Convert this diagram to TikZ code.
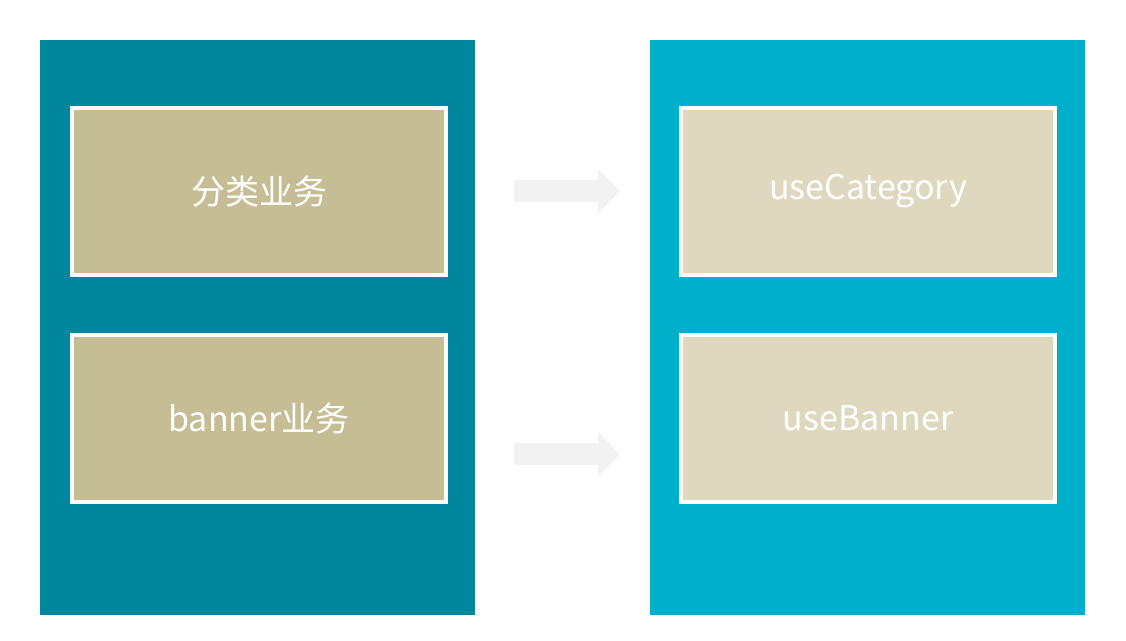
\documentclass[tikz,border=0pt]{standalone}
\usepackage{fontspec}
\setmainfont{Noto Sans CJK SC}
\usetikzlibrary{arrows.meta}
\definecolor{paneldark}{HTML}{00879E}
\definecolor{panellight}{HTML}{00B0CA}
\definecolor{boxdark}{HTML}{C5BD94}
\definecolor{boxlight}{HTML}{DDD8BE}
\definecolor{arrowgray}{HTML}{F2F2F2}
\begin{document}
\begin{tikzpicture}[x=1pt,y=-1pt,
  panel/.style={draw=none,inner sep=0pt,minimum width=435pt,minimum height=575pt},
  bizbox/.style={draw=white,line width=4pt,inner sep=0pt,minimum width=374pt,minimum height=167pt,
    text=white,font=\fontsize{34}{40}\selectfont},
  flow/.style={draw=arrowgray,line width=22pt,-{Triangle[length=22pt,width=43pt]}}]
\useasboundingbox (0,0) rectangle (1126,640);
\node[panel,fill=paneldark] (lp) at (257.5,327.5) {};
\node[panel,fill=panellight] (rp) at (867,327.5) {};
\node[bizbox,fill=boxdark] (l1) at (259,191.5) {分类业务};
\node[bizbox,fill=boxdark] (l2) at (259,418.5) {banner业务};
\node[bizbox,fill=boxlight] (r1) at (868,191.5) {useCategory};
\node[bizbox,fill=boxlight] (r2) at (868,418.5) {useBanner};
\coordinate (a1s) at (514,191);
\coordinate (a1e) at (620,191);
\coordinate (a2s) at (514,454);
\coordinate (a2e) at (620,454);
\draw[flow] (a1s) -- (a1e);
\draw[flow] (a2s) -- (a2e);
\end{tikzpicture}
\end{document}
